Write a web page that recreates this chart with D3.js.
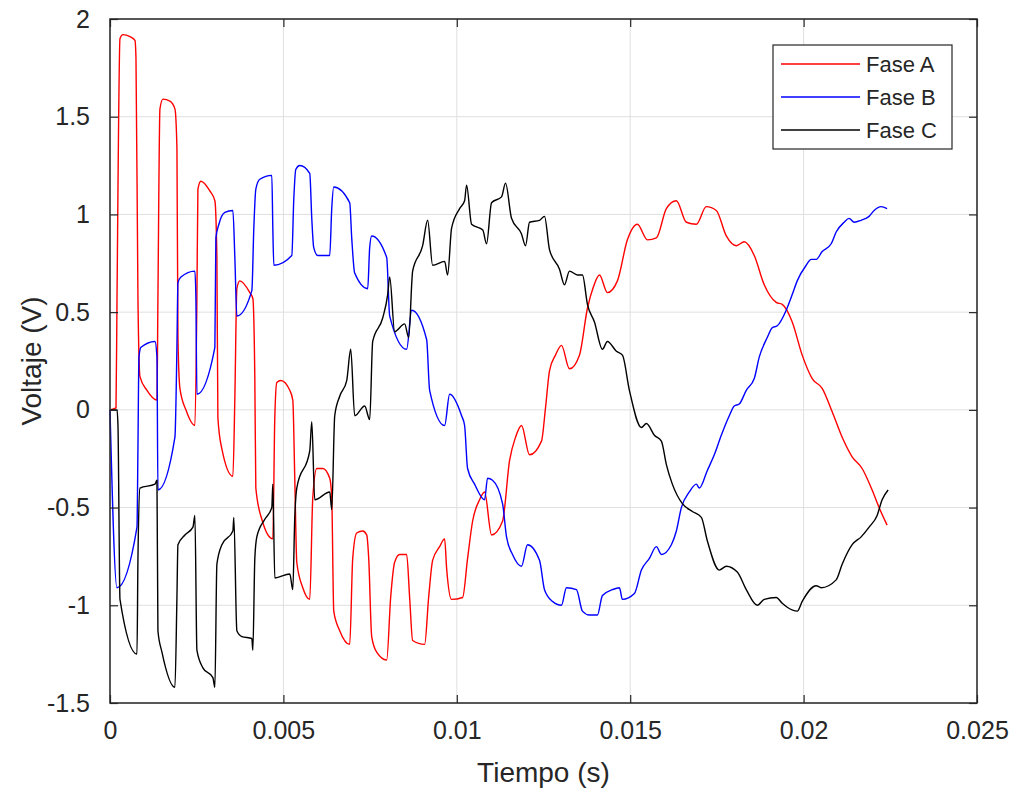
<!DOCTYPE html>
<html>
<head>
<meta charset="utf-8">
<script src="https://cdn.jsdelivr.net/npm/d3@7"></script>
<style>
  body { margin: 0; background: #fff; }
  svg { display: block; font-family: "Liberation Sans", Arial, sans-serif; }
</style>
</head>
<body>
<svg width="1014" height="789"></svg>
<script>
// tick values + labels
const xTicks = [0, 0.005, 0.01, 0.015, 0.02, 0.025];
const xTickLabels = ['0', '0.005', '0.01', '0.015', '0.02', '0.025'];
const yTicks = [-1.5, -1, -0.5, 0, 0.5, 1, 1.5, 2];
const yTickLabels = ['-1.5', '-1', '-0.5', '0', '0.5', '1', '1.5', '2'];

const seriesNames = ['Fase A', 'Fase B', 'Fase C'];

// [tiempo (s), voltaje (V)]
const faseA = [
  [0, 0], [0.000173, 0.01], [0.000202, 0.57], [0.000288, 1.90], [0.000374, 1.92], [0.000576, 1.91],
  [0.00072, 1.89], [0.000749, 1.80], [0.000806, 0.57], [0.000864, 0.17], [0.001066, 0.10], [0.001354, 0.05],
  [0.001382, 0.57], [0.00144, 1.54], [0.001527, 1.59], [0.001728, 1.58], [0.001872, 1.54], [0.00193, 1.34],
  [0.001959, 0.37], [0.002016, 0.11], [0.002189, 0.0], [0.002448, -0.08], [0.002506, 0.57], [0.002535, 1.13],
  [0.002621, 1.17], [0.00288, 1.12], [0.003024, 1.07], [0.003082, 0.78], [0.003111, -0.04], [0.003226, -0.20],
  [0.003543, -0.34], [0.0036, 0.06], [0.003658, 0.62], [0.003744, 0.66], [0.004032, 0.60], [0.004119, 0.57],
  [0.004176, 0.16], [0.004205, -0.40], [0.004378, -0.56], [0.004695, -0.66], [0.004752, -0.04], [0.00481, 0.14],
  [0.004925, 0.15], [0.005184, 0.10], [0.005271, 0.05], [0.005328, -0.35], [0.005386, -0.78], [0.005559, -0.91],
  [0.00576, -0.97], [0.005847, -0.45], [0.005962, -0.30], [0.006135, -0.30], [0.006336, -0.35], [0.006394, -0.45],
  [0.006452, -1.03], [0.006624, -1.13], [0.006912, -1.20], [0.006999, -0.76], [0.007114, -0.63], [0.007287, -0.62],
  [0.007402, -0.64], [0.00746, -0.76], [0.007546, -1.16], [0.00769, -1.24], [0.007978, -1.28], [0.008093, -0.96],
  [0.008208, -0.78], [0.008353, -0.74], [0.008554, -0.74], [0.00864, -0.96], [0.008727, -1.18], [0.009073, -1.20],
  [0.009188, -0.96], [0.009303, -0.77], [0.009505, -0.70], [0.009649, -0.66], [0.009706, -0.81], [0.00985, -0.97],
  [0.010167, -0.96], [0.010311, -0.76], [0.010455, -0.57], [0.010657, -0.46], [0.010801, -0.42], [0.011002, -0.64],
  [0.011319, -0.57], [0.011521, -0.26], [0.011694, -0.14], [0.011866, -0.08], [0.012097, -0.23], [0.012442, -0.16],
  [0.012558, 0.01], [0.012673, 0.20], [0.012846, 0.28], [0.013018, 0.33], [0.013249, 0.21], [0.013537, 0.28],
  [0.013767, 0.52], [0.01394, 0.63], [0.014113, 0.69], [0.014343, 0.60], [0.014631, 0.66], [0.014919, 0.87],
  [0.015207, 0.95], [0.015496, 0.87], [0.015755, 0.88], [0.016043, 1.03], [0.016331, 1.07], [0.016619, 0.96],
  [0.016907, 0.95], [0.017195, 1.04], [0.017483, 1.02], [0.017771, 0.89], [0.018059, 0.84], [0.018289, 0.86],
  [0.018577, 0.79], [0.018865, 0.64], [0.019211, 0.55], [0.019384, 0.54], [0.019672, 0.45], [0.01996, 0.28],
  [0.020248, 0.16], [0.020536, 0.11], [0.020824, -0.01], [0.021112, -0.14], [0.0214, -0.24], [0.021688, -0.30],
  [0.021976, -0.41], [0.022177, -0.50], [0.022408, -0.59],
];

const faseB = [
  [0, 0], [0.000202, -0.91], [0.000778, -0.60], [0.000806, -0.19], [0.000835, 0.27], [0.000893, 0.32],
  [0.001296, 0.35], [0.001354, 0.27], [0.001382, -0.41], [0.001872, -0.14], [0.00193, 0.32], [0.001959, 0.65],
  [0.002045, 0.68], [0.002448, 0.71], [0.002477, 0.57], [0.002506, 0.08], [0.003024, 0.32], [0.003053, 0.88],
  [0.00314, 0.95], [0.003312, 1.01], [0.003543, 1.02], [0.0036, 0.78], [0.003658, 0.48], [0.00409, 0.61],
  [0.004147, 0.93], [0.004205, 1.13], [0.00432, 1.18], [0.004666, 1.20], [0.004695, 0.93], [0.004724, 0.74],
  [0.005242, 0.79], [0.0053, 1.08], [0.005357, 1.23], [0.005472, 1.25], [0.00576, 1.21], [0.005818, 0.98],
  [0.005875, 0.83], [0.005991, 0.79], [0.006336, 0.79], [0.006394, 1.03], [0.006452, 1.14], [0.006912, 1.06],
  [0.00697, 0.88], [0.007056, 0.70], [0.007431, 0.62], [0.007488, 0.83], [0.007546, 0.89], [0.007978, 0.78],
  [0.008065, 0.48], [0.008554, 0.31], [0.008698, 0.51], [0.00913, 0.36], [0.009217, 0.10], [0.009649, -0.08],
  [0.009793, 0.08], [0.010138, -0.03], [0.010225, -0.08], [0.010311, -0.30], [0.010513, -0.38], [0.010801, -0.46],
  [0.010887, -0.35], [0.011031, -0.36], [0.011319, -0.48], [0.011434, -0.65], [0.011607, -0.74], [0.011866, -0.80],
  [0.012039, -0.69], [0.012385, -0.77], [0.012529, -0.92], [0.012759, -0.98], [0.013018, -1.00], [0.013162, -0.91],
  [0.01345, -0.92], [0.013623, -1.03], [0.013825, -1.05], [0.014055, -1.05], [0.014199, -0.95], [0.014487, -0.92],
  [0.014689, -0.91], [0.014776, -0.97], [0.015121, -0.94], [0.015323, -0.82], [0.015553, -0.76], [0.015755, -0.70],
  [0.015899, -0.74], [0.016187, -0.69], [0.016331, -0.62], [0.016475, -0.50], [0.016705, -0.42], [0.016907, -0.38],
  [0.016993, -0.40], [0.017224, -0.31], [0.017425, -0.23], [0.017627, -0.13], [0.017857, -0.03], [0.018001, 0.02],
  [0.018145, 0.03], [0.018347, 0.10], [0.018577, 0.16], [0.018721, 0.27], [0.018952, 0.37], [0.019096, 0.42],
  [0.01924, 0.43], [0.019499, 0.51], [0.019672, 0.59], [0.019816, 0.66], [0.020075, 0.74], [0.020219, 0.77],
  [0.020363, 0.77], [0.020536, 0.81], [0.020795, 0.85], [0.020939, 0.91], [0.021169, 0.96], [0.021313, 0.98],
  [0.021457, 0.96], [0.021659, 0.97], [0.021889, 0.99], [0.022033, 1.02], [0.022235, 1.04], [0.022408, 1.03],
];

const faseC = [
  [0, 0], [0.000202, 0], [0.00023, -0.08], [0.000288, -0.97], [0.000778, -1.25], [0.000806, -0.76],
  [0.000864, -0.40], [0.001296, -0.38], [0.001354, -0.36], [0.001382, -1.13], [0.001498, -1.24], [0.001872, -1.42],
  [0.00193, -0.96], [0.001959, -0.69], [0.00216, -0.64], [0.002391, -0.60], [0.002448, -0.54], [0.002506, -1.23],
  [0.002678, -1.32], [0.002967, -1.37], [0.003024, -1.42], [0.003082, -0.79], [0.003226, -0.69], [0.003543, -0.62],
  [0.003571, -0.55], [0.003658, -1.13], [0.003802, -1.16], [0.00409, -1.17], [0.004119, -1.23], [0.004176, -0.76],
  [0.004234, -0.65], [0.004464, -0.56], [0.004666, -0.50], [0.004695, -0.38], [0.004752, -0.86], [0.005184, -0.84],
  [0.005271, -0.92], [0.005328, -0.55], [0.005386, -0.40], [0.00576, -0.21], [0.005818, -0.06], [0.005904, -0.46],
  [0.006336, -0.42], [0.006394, -0.51], [0.00648, -0.03], [0.006624, 0.07], [0.006826, 0.15], [0.006941, 0.31],
  [0.007056, -0.03], [0.007344, 0.02], [0.007488, -0.05], [0.007575, 0.35], [0.007863, 0.47], [0.008007, 0.59],
  [0.008065, 0.68], [0.008208, 0.40], [0.008496, 0.44], [0.008612, 0.37], [0.008727, 0.71], [0.009015, 0.84],
  [0.009159, 0.97], [0.009303, 0.74], [0.009649, 0.76], [0.009735, 0.69], [0.00985, 0.93], [0.010081, 1.03],
  [0.010225, 1.07], [0.010282, 1.15], [0.010426, 0.95], [0.010749, 0.92], [0.010858, 0.85], [0.011002, 1.06],
  [0.01129, 1.09], [0.011406, 1.16], [0.011578, 0.98], [0.011866, 0.90], [0.011982, 0.84], [0.012097, 0.96],
  [0.012385, 0.97], [0.012529, 0.99], [0.012673, 0.82], [0.012961, 0.72], [0.013105, 0.64], [0.013249, 0.71],
  [0.013479, 0.69], [0.013623, 0.69], [0.013767, 0.54], [0.013969, 0.45], [0.014199, 0.31], [0.014343, 0.35],
  [0.014602, 0.30], [0.014776, 0.28], [0.014977, 0.10], [0.015323, -0.09], [0.015467, -0.07], [0.015697, -0.13],
  [0.015899, -0.16], [0.016043, -0.28], [0.016215, -0.38], [0.016504, -0.48], [0.016792, -0.52], [0.017051, -0.55],
  [0.017224, -0.67], [0.017569, -0.82], [0.017771, -0.80], [0.018088, -0.83], [0.018347, -0.92], [0.018664, -1.00],
  [0.018865, -0.97], [0.019211, -0.96], [0.019384, -0.99], [0.019528, -1.01], [0.019816, -1.03], [0.01996, -0.98],
  [0.020363, -0.90], [0.020507, -0.91], [0.020939, -0.87], [0.021112, -0.79], [0.0214, -0.69], [0.021659, -0.65],
  [0.021889, -0.60], [0.02212, -0.54], [0.022264, -0.46], [0.022437, -0.41],
];

const seriesColors = ['#ff0000', '#0000ff', '#000000'];

const margin = { top: 19, right: 37, bottom: 86, left: 110 };
const svg = d3.select('svg');
const width = +svg.attr('width');
const height = +svg.attr('height');
const axisColor = '#262626';

const x = d3.scaleLinear().domain([0, 0.025]).range([margin.left, width - margin.right]);
const y = d3.scaleLinear().domain([-1.5, 2]).range([height - margin.bottom, margin.top]);

// grid
svg.append('g')
  .selectAll('line')
  .data(xTicks)
  .join('line')
  .attr('x1', (d) => x(d)).attr('x2', (d) => x(d))
  .attr('y1', y(-1.5)).attr('y2', y(2))
  .attr('stroke', '#dfdfdf')
  .attr('stroke-width', 1);

svg.append('g')
  .selectAll('line')
  .data(yTicks)
  .join('line')
  .attr('y1', (d) => y(d)).attr('y2', (d) => y(d))
  .attr('x1', x(0)).attr('x2', x(0.025))
  .attr('stroke', '#dfdfdf')
  .attr('stroke-width', 1);

// lines - smoothed a bit like the matlab plot
const line = d3.line()
  .curve(d3.curveMonotoneX)
  .x((d) => x(d[0]))
  .y((d) => y(d[1]));

[faseA, faseB, faseC].forEach((data, i) => {
  svg.append('path')
    .datum(data)
    .attr('fill', 'none')
    .attr('stroke', seriesColors[i])
    .attr('stroke-width', 1.4)
    .attr('stroke-linejoin', 'round')
    .attr('d', line);
});

// axes (matlab style box, ticks pointing inward)
const tickLen = 8;
function styleAxis(g) {
  g.select('.domain').remove();
  g.selectAll('.tick line').attr('stroke', axisColor).attr('stroke-width', 1.2);
  g.selectAll('.tick text')
    .attr('fill', axisColor)
    .style('font-size', '25px');
}

svg.append('g')
  .attr('transform', `translate(0,${y(-1.5)})`)
  .call(d3.axisBottom(x).tickValues(xTicks)
    .tickFormat((d, i) => xTickLabels[i])
    .tickSizeInner(-tickLen).tickSizeOuter(0).tickPadding(18))
  .call(styleAxis);

svg.append('g')
  .attr('transform', `translate(0,${y(2)})`)
  .call(d3.axisTop(x).tickValues(xTicks).tickFormat('').tickSizeInner(-tickLen).tickSizeOuter(0))
  .call(styleAxis);

svg.append('g')
  .attr('transform', `translate(${x(0)},0)`)
  .call(d3.axisLeft(y).tickValues(yTicks)
    .tickFormat((d, i) => yTickLabels[i])
    .tickSizeInner(-tickLen).tickSizeOuter(0).tickPadding(20))
  .call(styleAxis);

svg.append('g')
  .attr('transform', `translate(${x(0.025)},0)`)
  .call(d3.axisRight(y).tickValues(yTicks).tickFormat('').tickSizeInner(-tickLen).tickSizeOuter(0))
  .call(styleAxis);

// box
svg.append('rect')
  .attr('x', x(0)).attr('y', y(2))
  .attr('width', x(0.025) - x(0))
  .attr('height', y(-1.5) - y(2))
  .attr('fill', 'none')
  .attr('stroke', axisColor)
  .attr('stroke-width', 1.5);

// axis labels
svg.append('text')
  .attr('x', (x(0) + x(0.025)) / 2)
  .attr('y', 782)
  .attr('text-anchor', 'middle')
  .attr('fill', axisColor)
  .style('font-size', '28px')
  .text('Tiempo (s)');

svg.append('text')
  .attr('transform', `translate(41,${(y(2) + y(-1.5)) / 2}) rotate(-90)`)
  .attr('text-anchor', 'middle')
  .attr('fill', axisColor)
  .style('font-size', '28px')
  .text('Voltaje (V)');

// legend
const legend = svg.append('g').attr('transform', 'translate(773,45)');
legend.append('rect')
  .attr('width', 179).attr('height', 104)
  .attr('fill', '#fff')
  .attr('stroke', axisColor)
  .attr('stroke-width', 1.2);

seriesNames.forEach((name, i) => {
  const ly = 19 + i * 33;
  legend.append('line')
    .attr('x1', 8).attr('x2', 87)
    .attr('y1', ly).attr('y2', ly)
    .attr('stroke', seriesColors[i])
    .attr('stroke-width', 1.4);
  legend.append('text')
    .attr('x', 93).attr('y', ly + 8)
    .attr('fill', axisColor)
    .style('font-size', '22px')
    .text(name);
});
</script>
</body>
</html>
